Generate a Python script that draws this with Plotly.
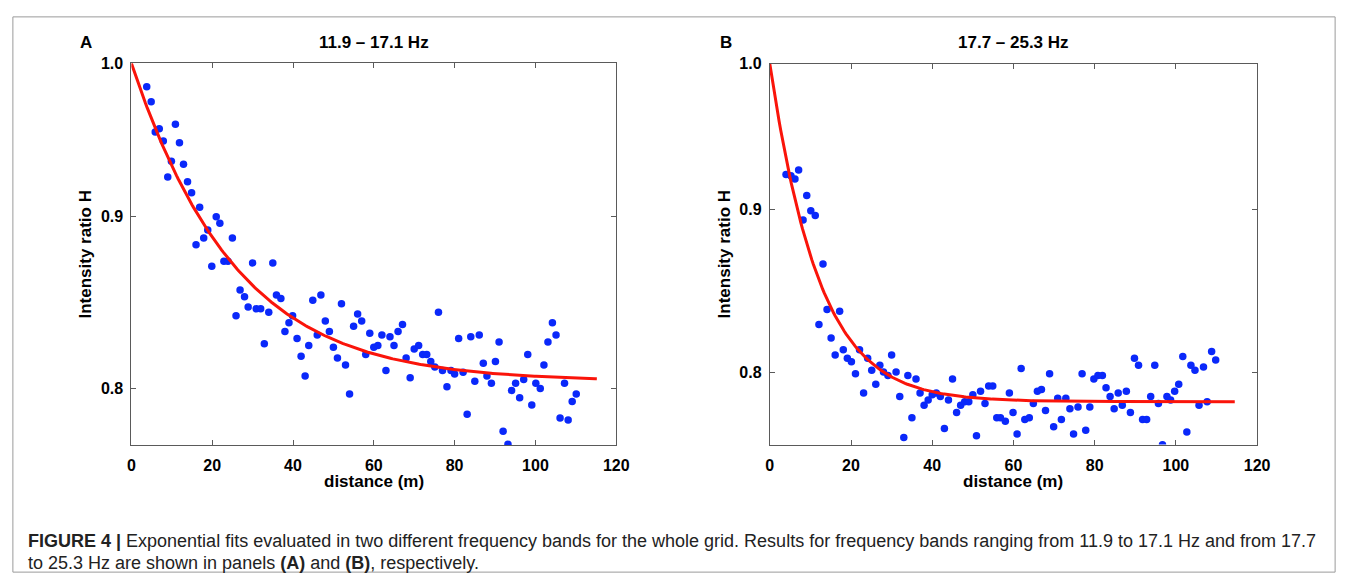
import numpy as np
import plotly.graph_objects as go

# ---------------- data ----------------
xA = [3.8,4.9,5.9,6.9,7.9,9.0,9.9,10.9,11.9,12.9,
      13.9,14.9,16.0,16.9,17.9,18.9,19.9,21.0,21.9,22.9,
      23.9,25.0,25.9,26.9,28.0,28.9,30.0,30.9,32.0,32.9,
      34.0,35.0,35.9,37.0,38.0,39.0,39.9,41.0,42.0,43.0,
      43.9,44.9,46.0,46.9,48.0,49.0,50.0,51.0,52.0,53.0,
      54.0,55.0,56.0,57.0,58.0,59.0,60.0,61.0,62.0,63.0,
      64.0,65.0,66.0,67.1,68.0,69.0,70.0,71.1,72.1,73.1,
      74.1,75.1,76.0,77.0,78.1,79.1,80.0,81.0,82.1,83.1,
      84.0,85.0,86.1,87.1,88.0,89.1,90.1,91.0,92.0,93.2,
      94.1,95.1,96.1,97.1,98.1,99.1,100.1,101.2,102.1,103.1,
      104.2,105.1,106.1,107.2,108.1,109.1,110.1]
yA = [0.984,0.974,0.954,0.956,0.948,0.925,0.935,0.959,0.947,0.933,
      0.922,0.915,0.883,0.906,0.887,0.892,0.870,0.900,0.896,0.873,
      0.873,0.887,0.841,0.856,0.852,0.846,0.872,0.845,0.845,0.825,
      0.843,0.872,0.853,0.851,0.832,0.837,0.841,0.828,0.818,0.807,
      0.824,0.850,0.830,0.853,0.838,0.832,0.823,0.817,0.848,0.813,
      0.797,0.835,0.842,0.838,0.819,0.831,0.823,0.824,0.830,0.810,
      0.829,0.824,0.832,0.836,0.817,0.806,0.822,0.824,0.819,0.819,
      0.815,0.812,0.843,0.810,0.801,0.810,0.808,0.828,0.809,0.786,
      0.829,0.804,0.830,0.814,0.807,0.803,0.815,0.826,0.777,0.770,
      0.799,0.803,0.795,0.805,0.819,0.791,0.803,0.800,0.813,0.826,
      0.837,0.830,0.784,0.803,0.783,0.793,0.797]

xB = [4.0,5.2,6.2,7.1,8.2,9.1,10.1,11.2,12.1,13.1,
      14.1,15.1,16.1,17.2,18.1,19.1,20.1,21.1,22.1,23.1,
      24.1,25.1,26.1,27.1,28.0,29.1,30.0,31.1,32.0,33.0,
      34.0,35.0,36.0,37.0,38.0,39.0,40.0,41.0,42.0,43.0,
      44.0,45.0,46.0,47.0,48.0,49.0,50.0,50.9,51.9,53.0,
      53.9,54.9,55.9,56.8,58.0,59.0,59.9,60.9,61.9,62.8,
      63.9,64.9,65.9,66.9,67.9,68.9,69.9,70.9,71.8,72.9,
      73.9,74.8,75.9,76.9,77.8,78.8,79.8,80.8,81.9,82.8,
      83.8,84.8,85.8,86.8,87.8,88.8,89.8,90.8,91.8,92.8,
      93.8,94.8,95.7,96.7,97.8,98.7,99.7,100.7,101.7,102.7,
      103.7,104.7,105.7,106.8,107.7,108.8,109.8]
yB = [0.923,0.922,0.920,0.926,0.893,0.909,0.899,0.896,0.828,0.865,
      0.837,0.820,0.810,0.836,0.813,0.808,0.806,0.799,0.813,0.788,
      0.808,0.801,0.793,0.804,0.800,0.798,0.810,0.800,0.786,0.763,
      0.798,0.774,0.796,0.788,0.781,0.784,0.787,0.788,0.786,0.768,
      0.784,0.796,0.777,0.781,0.783,0.783,0.787,0.764,0.789,0.782,
      0.792,0.792,0.774,0.774,0.772,0.788,0.777,0.765,0.802,0.773,
      0.774,0.782,0.789,0.790,0.778,0.799,0.769,0.785,0.773,0.785,
      0.779,0.765,0.780,0.799,0.767,0.780,0.796,0.798,0.798,0.791,
      0.786,0.779,0.788,0.781,0.789,0.777,0.808,0.804,0.773,0.773,
      0.786,0.804,0.782,0.759,0.786,0.784,0.789,0.793,0.809,0.766,
      0.804,0.801,0.781,0.803,0.783,0.812,0.807]

# exponential fit parameters: H = c + (1 - c) * exp(-x / L)
fitA = {"c": 0.804, "L": 23.5, "xmax": 115.2}
fitB = {"c": 0.783, "L": 11.0, "xmax": 114.5}

titles = ["11.9 \u2013 17.1 Hz", "17.7 \u2013 25.3 Hz"]
panel_labels = ["A", "B"]
x_ticks = [0, 20, 40, 60, 80, 100, 120]
y_ticks = [0.8, 0.9, 1.0]
y_ticktext = ["0.8", "0.9", "1.0"]

# ---------------- figure ----------------
W, H = 1357, 581
def px(x):
    return x / W
def py(y):
    return 1 - y / H

FONT = "Liberation Sans, Arial, Helvetica, sans-serif"
BLUE = "rgb(10,40,250)"
RED = "rgb(250,20,10)"
AXC = "#5a5a5a"

fig = go.Figure()

def fit_curve(p):
    xs = np.linspace(0, p["xmax"], 300)
    return xs, p["c"] + (1 - p["c"]) * np.exp(-xs / p["L"])

for i, (xs, ys, fp) in enumerate([(xA, yA, fitA), (xB, yB, fitB)]):
    ax = "x" if i == 0 else "x2"
    ay = "y" if i == 0 else "y2"
    fig.add_trace(go.Scatter(x=xs, y=ys, mode="markers", xaxis=ax, yaxis=ay,
                             marker=dict(color=BLUE, size=7.5, line=dict(width=0)),
                             showlegend=False))
    cx, cy = fit_curve(fp)
    fig.add_trace(go.Scatter(x=cx, y=cy, mode="lines", xaxis=ax, yaxis=ay,
                             line=dict(color=RED, width=3), showlegend=False))

tickfont = dict(family=FONT, size=16, color="black", weight="bold")
common_x = dict(range=[0, 120], tickvals=x_ticks, ticks="inside", ticklen=5,
                tickcolor=AXC, showline=True, linecolor=AXC, linewidth=1,
                mirror="ticks", showgrid=False, zeroline=False,
                tickfont=tickfont, ticklabelstandoff=6)
common_y = dict(type="log", tickvals=y_ticks, ticktext=y_ticktext, ticks="inside",
                ticklen=5, tickcolor=AXC, showline=True, linecolor=AXC, linewidth=1,
                mirror="ticks", showgrid=False, zeroline=False,
                tickfont=tickfont, ticklabelstandoff=4)

fig.update_layout(
    width=W, height=H,
    margin=dict(l=0, r=0, t=0, b=0),
    paper_bgcolor="white", plot_bgcolor="white",
    showlegend=False,
    xaxis=dict(domain=[px(129), px(620)], anchor="y", **common_x),
    yaxis=dict(domain=[py(443), py(56)], anchor="x",
               range=[np.log10(0.7697), 0], **common_y),
    xaxis2=dict(domain=[px(775.5), px(1269)], anchor="y2", **common_x),
    yaxis2=dict(domain=[py(442.7), py(56.4)], anchor="x2",
                range=[np.log10(0.7591), 0], **common_y),
)

annots = []
bold = dict(family=FONT, size=17, color="black", weight="bold")
# panel titles and labels
for cxp, lx, t, lab in [(375, 83, titles[0], panel_labels[0]),
                        (1022, 731, titles[1], panel_labels[1])]:
    annots.append(dict(x=px(cxp), y=py(35), xref="paper", yref="paper", text=t,
                       showarrow=False, xanchor="center", yanchor="middle", font=bold))
    annots.append(dict(x=px(lx), y=py(35), xref="paper", yref="paper", text=lab,
                       showarrow=False, xanchor="center", yanchor="middle", font=bold))
# axis titles
for cxp, ylx in [(375, 83), (1022, 730)]:
    annots.append(dict(x=px(cxp), y=py(480), xref="paper", yref="paper",
                       text="distance (m)", showarrow=False, xanchor="center",
                       yanchor="middle", font=bold))
    annots.append(dict(x=px(ylx), y=py(250), xref="paper", yref="paper",
                       text="Intensity ratio H", showarrow=False, textangle=-90,
                       xanchor="center", yanchor="middle", font=bold))
# caption
capfont = dict(family=FONT, size=18, color="#222222")
annots.append(dict(x=px(22), y=py(540), xref="paper", yref="paper", showarrow=False,
                   xanchor="left", yanchor="middle", align="left", font=capfont,
                   text="<b>FIGURE 4 |</b> Exponential fits evaluated in two different frequency bands for the whole grid. Results for frequency bands ranging from 11.9 to 17.1 Hz and from 17.7"))
annots.append(dict(x=px(22), y=py(563), xref="paper", yref="paper", showarrow=False,
                   xanchor="left", yanchor="middle", align="left", font=capfont,
                   text="to 25.3 Hz are shown in panels <b>(A)</b> and <b>(B)</b>, respectively."))
fig.update_layout(annotations=annots)

# outer frame
fig.add_shape(type="rect", xref="paper", yref="paper",
              x0=px(9), x1=px(1348), y0=py(572), y1=py(9),
              line=dict(color="#9a9a9a", width=1), fillcolor="rgba(0,0,0,0)")

fig.write_html("out.html", config={"displayModeBar": False},
               post_script="document.body.style.margin='0';document.body.style.overflow='hidden';")
